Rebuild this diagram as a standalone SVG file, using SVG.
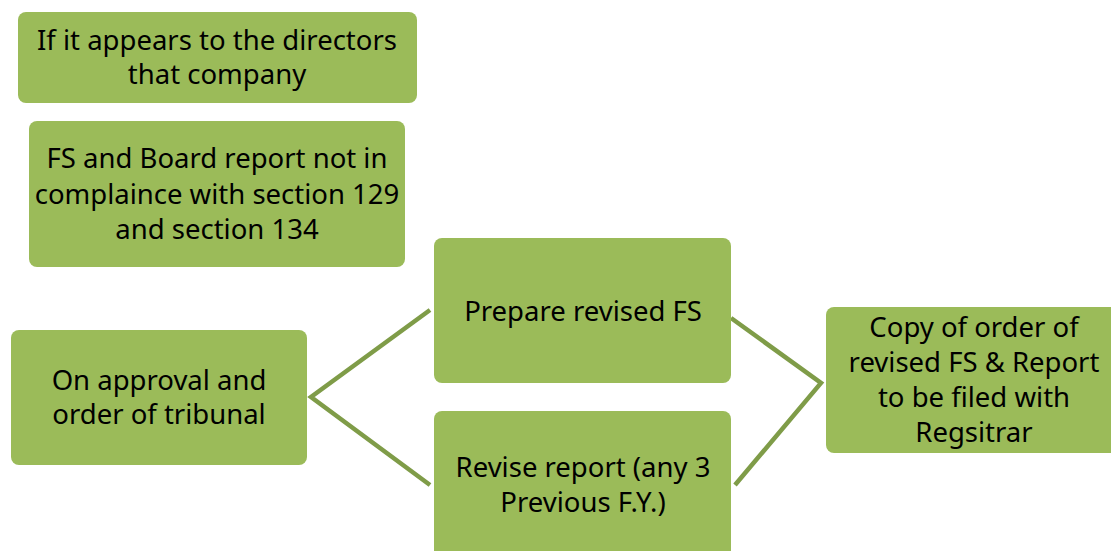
<svg xmlns="http://www.w3.org/2000/svg" width="1111" height="551" viewBox="0 0 1111 551">
<style>
.box{fill:#9bbb59;}
.t{font-family:"Noto Sans","Open Sans","DejaVu Sans",sans-serif;font-size:27.5px;fill:#000;text-anchor:middle;}
.c{fill:none;stroke:#7f9c48;stroke-width:4.5;}
</style>
<rect width="1111" height="551" fill="#fff"/>
<g id="connectors">
<polyline class="c" points="430,310 311,397 430,485"/>
<polyline class="c" points="731,318 821,383 735,485"/>
</g>
<g id="node1">
<rect class="box" x="18" y="12" width="399" height="91" rx="8"/>
<text class="t" x="217" y="50">If it appears to the directors</text>
<text class="t" x="217" y="84">that company</text>
</g>
<g id="node2">
<rect class="box" x="29" y="121" width="376" height="146" rx="8"/>
<text class="t" x="217" y="168">FS and Board report not in</text>
<text class="t" x="217" y="204">complaince with section 129</text>
<text class="t" x="217" y="239">and section 134</text>
</g>
<g id="node3">
<rect class="box" x="11" y="330" width="296" height="135" rx="8"/>
<text class="t" x="159" y="390">On approval and</text>
<text class="t" x="159" y="424">order of tribunal</text>
</g>
<g id="node4">
<rect class="box" x="434" y="238" width="297" height="145" rx="8"/>
<text class="t" x="583" y="321">Prepare revised FS</text>
</g>
<g id="node5">
<rect class="box" x="434" y="411" width="297" height="150" rx="8"/>
<text class="t" x="583" y="477">Revise report (any 3</text>
<text class="t" x="583" y="512">Previous F.Y.)</text>
</g>
<g id="node6">
<rect class="box" x="826" y="307" width="300" height="146" rx="8"/>
<text class="t" x="974" y="337">Copy of order of</text>
<text class="t" x="974" y="372">revised FS &amp; Report</text>
<text class="t" x="974" y="407">to be filed with</text>
<text class="t" x="974" y="442">Regsitrar</text>
</g>
</svg>
